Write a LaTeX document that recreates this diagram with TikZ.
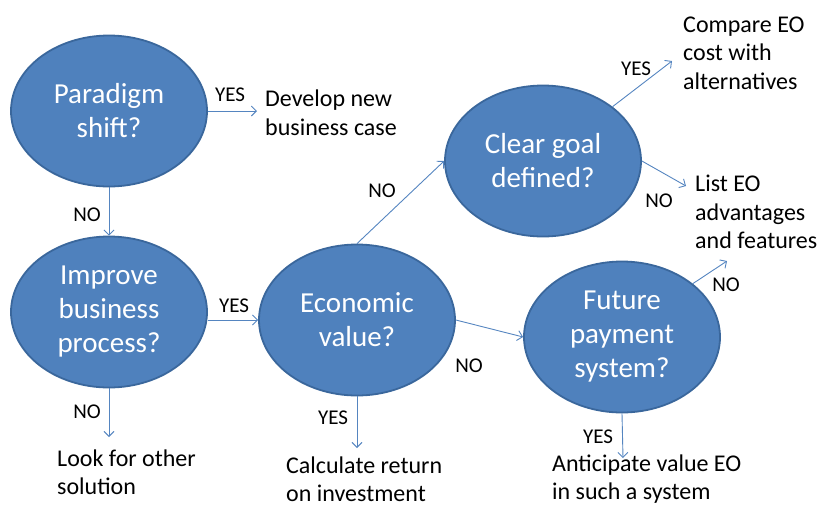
\documentclass[tikz,border=0pt]{standalone}
\usepackage{fontspec}
\setmainfont{Carlito}
\usetikzlibrary{positioning,arrows.meta,shapes.geometric}
\definecolor{qfill}{HTML}{4F81BD}
\definecolor{qedge}{HTML}{3A679C}
\definecolor{qline}{HTML}{5585C0}

\begin{document}
\begin{tikzpicture}[
  x=1pt, y=-1pt,
  qbox/.style = {ellipse, draw=qedge, line width=1.8pt, fill=qfill,
                 text=white, align=center, inner sep=0pt,
                 minimum width=196pt, minimum height=151pt,
                 font=\fontsize{29}{34}\selectfont},
  res/.style  = {align=left, anchor=west, inner sep=0pt,
                 font=\fontsize{24}{28.5}\selectfont},
  lbl/.style  = {inner sep=0pt, font=\fontsize{21}{24}\selectfont},
  flow/.style = {-{Straight Barb[length=5pt,width=10pt]}, draw=qline,
                 line width=0.9pt},
]
\useasboundingbox (0,0) rectangle (819,507);

%% ==== the questions =======================================================
\node[qbox] (par)  at (109,111) {Paradigm\\shift?};
\node[qbox] (imp)  at (109,312) {Improve\\business\\process?};
\node[qbox] (eco)  at (357,320) {Economic\\value?};
\node[qbox] (goal) at (543,161) {Clear goal\\defined?};
\node[qbox] (fut)  at (622,337) {Future\\payment\\system?};

%% ==== the outcomes ========================================================
\node[res] (dev)  at (265,113) {Develop new\\business case};
\node[res] (cmp)  at (683,53)  {Compare EO\\cost with\\alternatives};
\node[res] (lst)  at (695,212) {List EO\\advantages\\and features};
\node[res] (look) at (57,472)  {Look for other\\solution};
\node[res] (roi)  at (286,479) {Calculate return\\on investment};
\node[res] (ant)  at (552,479) {Anticipate value EO\\in such a system};

%% ==== free arrow ends =====================================================
\coordinate (devIn)  at (257,111);
\coordinate (cmpIn)  at (672,61);
\coordinate (lstIn)  at (686,186);
\coordinate (lookIn) at (109,437);
\coordinate (roiIn)  at (357,448);
\coordinate (antIn)  at (623,458);
\coordinate (futNE)  at (727,261);

%% ==== connectors ==========================================================
\draw[flow] (par.east) -- (devIn);
\draw[flow] (par.south) -- (imp.north);
\draw[flow] (eco.west -| imp.east) -- (eco.west);
\draw[flow] (imp.south) -- (lookIn);
\draw[flow] (eco.north) -- (goal.west);
\draw[flow] (eco.south) -- (roiIn);
\draw[flow] (eco.east) -- (fut.west);
\draw[flow] (goal.38) -- (cmpIn);
\draw[flow] (goal.east) -- (lstIn);
\draw[flow] (fut.37) -- (futNE);
\draw[flow] (fut.south) -- (antIn);

%% ==== answers =============================================================
\node[lbl] (yesDev)  at (230,95)  {YES};
\node[lbl] (noImp)   at (87,215)  {NO};
\node[lbl] (yesEco)  at (234,306) {YES};
\node[lbl] (noLook)  at (87,412)  {NO};
\node[lbl] (noGoal)  at (382,191) {NO};
\node[lbl] (yesRoi)  at (333,418) {YES};
\node[lbl] (noFut)   at (469,366) {NO};
\node[lbl] (yesCmp)  at (636,69)  {YES};
\node[lbl] (noLst)   at (659,201) {NO};
\node[lbl] (noNE)    at (726,285) {NO};
\node[lbl] (yesAnt)  at (598,437) {YES};

\end{tikzpicture}
\end{document}
